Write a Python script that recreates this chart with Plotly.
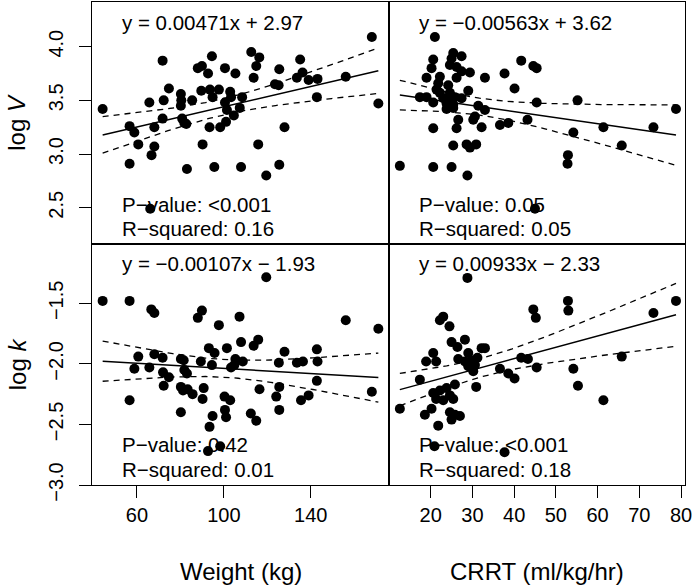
import numpy as np
import plotly.graph_objects as go

# ---------------- data ----------------
weight_v = [44.2, 56.6, 58.8, 56.6, 60.6, 65.7, 68.0, 68.0, 66.7, 66.1, 71.8, 72.3, 71.8, 74.7, 80.2, 80.4,
            80.2, 80.8, 81.8, 82.7, 83.0, 85.4, 88.0, 89.9, 90.2, 89.6, 92.7, 93.6, 93.4, 94.5, 94.8, 95.6,
            97.7, 98.3, 100.5, 100.5, 101.4, 101.0, 102.9, 103.3, 104.6, 105.3, 107.3, 107.9, 108.4, 112.6,
            113.7, 114.9, 116.3, 115.8, 119.5, 123.5, 125.2, 125.5, 125.5, 127.9, 133.6, 135.1, 136.2, 139.0,
            143.1, 142.8, 156.1, 168.1, 171.1]
logV_weight = [3.42, 3.26, 3.20, 2.91, 3.09, 3.48, 3.25, 3.07, 2.99, 2.49, 3.87, 3.50, 3.33, 3.61, 3.56, 3.50,
               3.45, 3.33, 3.29, 3.28, 2.86, 3.50, 3.80, 3.82, 3.09, 3.59, 3.75, 3.60, 3.25, 3.91, 3.53, 2.88,
               3.60, 3.25, 3.80, 3.48, 3.41, 3.30, 3.58, 3.53, 3.36, 3.75, 3.43, 2.88, 3.53, 3.95,
               3.71, 3.82, 3.90, 3.09, 2.80, 3.65, 3.64, 3.79, 2.90, 3.25, 3.71, 3.88, 3.76, 3.69,
               3.70, 3.53, 3.72, 4.09, 3.47]

weight_k = [44.2, 56.6, 56.6, 58.8, 60.6, 65.7, 66.6, 68.0, 68.0, 71.8, 72.0, 72.3, 74.7, 80.2, 81.5, 81.8,
            83.0, 80.2, 81.2, 83.3, 85.6, 80.2, 88.0, 89.9, 89.4, 90.7, 90.2, 93.1, 94.5, 95.7, 93.4, 94.8,
            92.7, 98.3, 97.7, 101.4, 100.3, 102.9, 100.5, 101.0, 103.3, 104.8, 105.3, 108.7, 107.2, 107.9,
            113.7, 115.8, 116.4, 112.4, 114.9, 119.5, 125.3, 125.5, 124.1, 125.5, 127.9, 133.6, 136.4, 135.5,
            139.0, 142.8, 143.1, 142.8, 156.1, 168.1, 171.1]
logk_weight = [-1.48, -1.48, -2.30, -2.04, -1.94, -2.03, -1.55, -1.58, -1.92, -1.95, -2.07, -2.18, -2.11, -1.96,
               -1.97, -2.05, -2.08, -2.19, -2.22, -2.21, -2.25, -2.40, -1.62, -1.56, -1.98, -2.20, -2.29, -1.87,
               -2.01, -1.91, -2.52, -2.43, -2.72, -2.68, -1.68, -1.87, -2.27, -2.30, -2.38, -2.44, -2.03, -2.01,
               -1.96, -1.98, -1.61, -1.82, -1.85, -1.80, -2.21, -2.41, -2.47, -1.285, -1.99, -2.19, -2.27, -2.38,
               -1.90, -1.99, -1.98, -2.30, -2.26, -1.88, -1.98, -2.14, -1.64, -2.23, -1.71]

crrt_v = [25.4, 27.4, 25.0, 20.6, 24.6, 26.2, 20.2, 27.4, 29.4, 33.0, 19.0, 22.2, 26.2, 21.8, 24.2, 21.4,
          29.0, 22.2, 24.6, 17.4, 19.0, 23.0, 24.6, 25.8, 27.4, 20.6, 23.8, 25.4, 23.8, 25.4, 31.4, 33.0,
          30.6, 30.2, 26.6, 26.2, 32.2, 20.6, 25.4, 28.6, 30.9, 29.4, 12.6, 20.6, 25.0, 28.8, 21.0, 36.6,
          37.7, 38.6, 40.1, 41.7, 43.2, 44.6, 45.4, 45.4, 45.0, 52.9, 52.8, 54.2, 55.2, 61.4, 65.8, 73.4, 78.8]
logV_crrt = [3.94, 3.91, 3.89, 3.88, 3.83, 3.81, 3.80, 3.77, 3.76, 3.71, 3.71, 3.72, 3.71, 3.66, 3.64, 3.60,
             3.59, 3.57, 3.57, 3.53, 3.53, 3.52, 3.51, 3.53, 3.52, 3.48, 3.47, 3.46, 3.42, 3.43, 3.45, 3.41,
             3.35, 3.32, 3.32, 3.24, 3.25, 3.24, 3.08, 3.09, 3.09, 3.06, 2.89, 2.88, 2.88, 2.80, 4.09, 3.27,
             3.75, 3.29, 3.61, 3.87, 3.32, 3.82, 3.80, 3.48, 2.49, 2.99, 2.91, 3.20, 3.50, 3.25, 3.08, 3.25, 3.42]

crrt_k = [23.0, 22.2, 24.5, 25.0, 28.2, 26.4, 20.6, 18.9, 21.3, 26.6, 29.0, 32.2, 28.2, 29.8, 30.6, 29.0,
          31.2, 30.2, 17.4, 30.9, 12.6, 25.8, 23.8, 22.2, 20.6, 24.6, 21.3, 23.0, 25.4, 20.2, 18.6, 24.6,
          25.8, 25.0, 27.0, 21.8, 37.7, 20.9, 36.6, 38.6, 40.1, 41.7, 43.3, 44.6, 45.2, 45.4, 52.9, 53.0,
          54.2, 55.3, 61.4, 65.8, 73.4, 78.8, 28.8, 33.0]
logk_crrt = [-1.61, -1.64, -1.69, -1.82, -1.80, -1.86, -1.91, -1.98, -1.98, -1.96, -1.91, -1.87, -1.98, -1.97,
             -2.01, -2.02, -1.95, -2.06, -2.13, -2.19, -2.37, -2.17, -2.20, -2.22, -2.24, -2.26, -2.29, -2.30,
             -2.29, -2.37, -2.42, -2.40, -2.42, -2.46, -2.43, -2.51, -2.73, -2.68, -2.04, -2.08, -2.12, -1.95,
             -1.96, -1.55, -1.62, -2.03, -1.48, -1.56, -2.04, -2.18, -2.30, -1.94, -1.58, -1.48, -1.29, -1.87]

# fitted coefficients as printed on the chart
slopes = [0.00471, -0.00563, -0.00107, 0.00933]
intercepts = [2.97, 3.62, -1.93, -2.33]
equations = ["y = 0.00471x + 2.97", "y = \u22120.00563x + 3.62",
             "y = \u22120.00107x \u2212 1.93", "y = 0.00933x \u2212 2.33"]
p_values = ["P\u2212value: <0.001", "P\u2212value: 0.05", "P\u2212value: 0.42", "P\u2212value: <0.001"]
r_squared = ["R\u2212squared: 0.16", "R\u2212squared: 0.05", "R\u2212squared: 0.01", "R\u2212squared: 0.18"]

xticks_weight = [60, 100, 140]
xticks_crrt = [20, 30, 40, 50, 60, 70, 80]
yticks_V = [2.5, 3.0, 3.5, 4.0]
yticks_k = [-3.0, -2.5, -2.0, -1.5]

# ---------------- figure geometry ----------------
W, H = 693, 587
L, R, T, B = 92, 8, 2, 102
PW, PH = W - L - R, H - T - B
XSPLIT = (389 - L) / PW
YSPLIT = 0.5

def px(xp):
    return (xp - L) / PW

def py(yp):
    return (H - B - yp) / PH

FONT = "Liberation Sans, Arial, Helvetica, sans-serif"
panels = [
    (weight_v, logV_weight, "x", "y"),
    (crrt_v, logV_crrt, "x2", "y2"),
    (weight_k, logk_weight, "x3", "y3"),
    (crrt_k, logk_crrt, "x4", "y4"),
]

fig = go.Figure()
T_CRIT = 2.0
for i, (xs, ys, xa, ya) in enumerate(panels):
    xs_a = np.array(xs, dtype=float)
    ys_a = np.array(ys, dtype=float)
    b, a = slopes[i], intercepts[i]
    fit = a + b * xs_a
    n = len(xs_a)
    s = np.sqrt(np.sum((ys_a - fit) ** 2) / (n - 2))
    xbar = xs_a.mean()
    sxx = np.sum((xs_a - xbar) ** 2)
    grid = np.linspace(xs_a.min(), xs_a.max(), 60)
    line = a + b * grid
    half = T_CRIT * s * np.sqrt(1.0 / n + (grid - xbar) ** 2 / sxx)
    fig.add_trace(go.Scatter(x=xs, y=ys, mode="markers", xaxis=xa, yaxis=ya,
                             marker=dict(color="black", size=10), showlegend=False))
    fig.add_trace(go.Scatter(x=grid, y=line, mode="lines", xaxis=xa, yaxis=ya,
                             line=dict(color="black", width=1.5), showlegend=False))
    for band in (line + half, line - half):
        fig.add_trace(go.Scatter(x=grid, y=band, mode="lines", xaxis=xa, yaxis=ya,
                                 line=dict(color="black", width=1.3, dash="6px,5px"), showlegend=False))

common = dict(showline=True, mirror=True, linecolor="black", linewidth=1, showgrid=False,
              zeroline=False, tickcolor="black", ticklen=12, tickwidth=1,
              tickfont=dict(family=FONT, size=20, color="black"))

layout = dict(
    width=W, height=H, margin=dict(l=L, r=R, t=T, b=B),
    plot_bgcolor="white", paper_bgcolor="white", showlegend=False,
    font=dict(family=FONT, color="black"),
    xaxis=dict(domain=[0, XSPLIT], range=[39.3, 176], anchor="y", ticks="", showticklabels=False, **common),
    xaxis2=dict(domain=[XSPLIT, 1], range=[10.0, 80.96], anchor="y2", ticks="", showticklabels=False, **common),
    xaxis3=dict(domain=[0, XSPLIT], range=[39.3, 176], anchor="y3", ticks="outside",
                tickvals=xticks_weight, ticktext=[str(v) for v in xticks_weight], **common),
    xaxis4=dict(domain=[XSPLIT, 1], range=[10.0, 80.96], anchor="y4", ticks="outside",
                tickvals=xticks_crrt, ticktext=[str(v) for v in xticks_crrt], **common),
    yaxis=dict(domain=[YSPLIT, 1], range=[2.167, 4.416], anchor="x", ticks="outside", tickangle=-90,
               ticklabelstandoff=8,
               tickvals=yticks_V, ticktext=["%.1f" % v for v in yticks_V], **common),
    yaxis2=dict(domain=[YSPLIT, 1], range=[2.167, 4.416], anchor="x2", ticks="", showticklabels=False, **common),
    yaxis3=dict(domain=[0, YSPLIT], range=[-3.0, -1.006], anchor="x3", ticks="outside", tickangle=-90,
                ticklabelstandoff=8,
                tickvals=yticks_k, ticktext=[("%.1f" % v).replace("-", "\u2212") for v in yticks_k], **common),
    yaxis4=dict(domain=[0, YSPLIT], range=[-3.0, -1.006], anchor="x4", ticks="", showticklabels=False, **common),
)
fig.update_layout(**layout)

ann = []
text_x = [120, 417, 120, 417]
eq_y = [22, 22, 263, 263]
p_y = [204, 204, 444, 444]
r_y = [229, 229, 469, 469]
for i in range(4):
    for txt, yy in ((equations[i], eq_y[i]), (p_values[i], p_y[i]), (r_squared[i], r_y[i])):
        ann.append(dict(text=txt, x=px(text_x[i]), y=py(yy), xref="paper", yref="paper",
                        xanchor="left", yanchor="middle", showarrow=False,
                        font=dict(family=FONT, size=20.5, color="black")))
# axis titles
TF = dict(family=FONT, size=24, color="black")
ann.append(dict(text="log <i>V</i>", x=px(17), y=py(122.75), xref="paper", yref="paper", textangle=-90,
                xanchor="center", yanchor="middle", showarrow=False, font=TF))
ann.append(dict(text="log <i>k</i>", x=px(17), y=py(364.25), xref="paper", yref="paper", textangle=-90,
                xanchor="center", yanchor="middle", showarrow=False, font=TF))
ann.append(dict(text="Weight (kg)", x=px(240.5), y=py(571), xref="paper", yref="paper",
                xanchor="center", yanchor="middle", showarrow=False, font=TF))
ann.append(dict(text="CRRT (ml/kg/hr)", x=px(537), y=py(571), xref="paper", yref="paper",
                xanchor="center", yanchor="middle", showarrow=False, font=TF))
fig.update_layout(annotations=ann)

fig.write_html("out.html", config={"displayModeBar": False},
               post_script="document.body.style.margin='0px';document.body.style.padding='0px';")
